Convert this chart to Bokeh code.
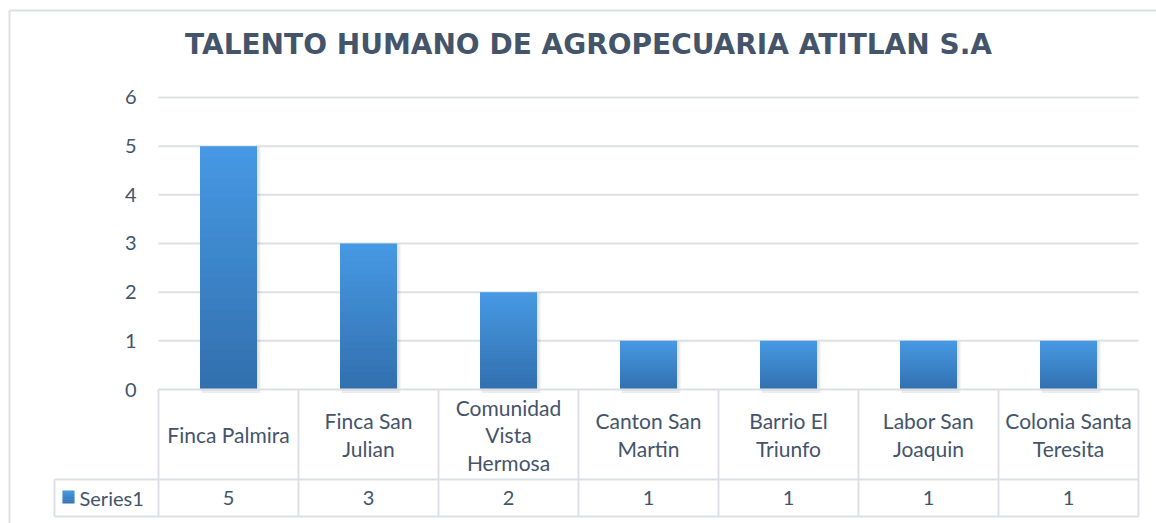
import numpy as np
from bokeh.plotting import figure
from bokeh.models import ColumnDataSource, Range1d
from bokeh.core.properties import value
from bokeh.embed import file_html
from bokeh.resources import INLINE

# ---------------- data ----------------
title_text = "TALENTO HUMANO DE AGROPECUARIA ATITLAN S.A"
categories = ["Finca Palmira", "Finca San Julian", "Comunidad Vista Hermosa",
              "Canton San Martin", "Barrio El Triunfo", "Labor San Joaquin",
              "Colonia Santa Teresita"]
category_labels = ["Finca Palmira", "Finca San\nJulian", "Comunidad\nVista\nHermosa",
                   "Canton San\nMartin", "Barrio El\nTriunfo", "Labor San\nJoaquin",
                   "Colonia Santa\nTeresita"]
series_name = "Series1"
series_values = [5, 3, 2, 1, 1, 1, 1]
y_ticks = [0, 1, 2, 3, 4, 5, 6]

# ---------------- layout (pixels) ----------------
W, H = 1156, 523
PX_X0, PX_PER_X = 228.0, 140.0      # canvas px of first category centre, px per category
PX_Y0, PX_PER_Y = 389.0, 48.67      # canvas px of value 0, px per unit


def xd(px):
    return (px - PX_X0) / PX_PER_X


def yd(py):
    return (PX_Y0 - py) / PX_PER_Y


TEXT = "#44546A"
GRID = "#DCE0E6"
FONT = "Lato"
BAR_W = 57 / PX_PER_X
ROW1 = yd(479)      # category row bottom
ROW2 = yd(516)      # value row bottom
CELL_L = xd(54)     # left edge of legend cell

n = len(categories)
xs = list(range(n))

p = figure(width=W, height=H, x_range=Range1d(xd(0), xd(W)), y_range=Range1d(yd(H), yd(0)),
           x_axis_type=None, y_axis_type=None, min_border=0, toolbar_location=None,
           output_backend="svg", outline_line_color=None)
p.grid.visible = False
p.background_fill_color = "white"
p.border_fill_color = "white"

# outer chart border (top and left edges)
p.segment(x0=[xd(9), xd(9)], y0=[yd(10), yd(10)], x1=[xd(W), xd(9)], y1=[yd(10), yd(H)],
          line_color=GRID, line_width=2)

# gridlines over the plot area
grid_src = ColumnDataSource(dict(x0=[xd(158)] * (len(y_ticks) - 1), x1=[xd(1138)] * (len(y_ticks) - 1),
                                 y=y_ticks[1:]))
p.segment(x0="x0", y0="y", x1="x1", y1="y", source=grid_src, line_color=GRID, line_width=2)

# y tick labels
p.text(x=[xd(136)] * len(y_ticks), y=y_ticks, text=[str(t) for t in y_ticks],
       text_align="right", text_baseline="middle", text_color=TEXT,
       text_font=value(FONT), text_font_size=value("20px"))

# bar shadows
p.vbar(x=[x + 2.5 / PX_PER_X for x in xs], width=BAR_W + 2 / PX_PER_X,
       bottom=-3.5 / PX_PER_Y, top=[v - 1 / PX_PER_Y for v in series_values],
       fill_color="black", fill_alpha=0.07, line_color=None)
p.vbar(x=[x + 1 / PX_PER_X for x in xs], width=BAR_W + 1 / PX_PER_X,
       bottom=-1.5 / PX_PER_Y, top=series_values,
       fill_color="black", fill_alpha=0.06, line_color=None)

# gradient bars (each bar: lighter at top, darker at bottom)
c_bot = np.array([0x32, 0x6F, 0xAD])
c_top = np.array([0x46, 0x99, 0xE4])
N = 24
overlap = 1.0 / PX_PER_Y
bx, bb, bt, bc = [], [], [], []
for x, v in zip(xs, series_values):
    for k in range(N):
        t = (k + 0.5) / N
        c = (c_bot + (c_top - c_bot) * t).round().astype(int)
        bx.append(x)
        bb.append(v * k / N - (overlap if k > 0 else 0))
        bt.append(v * (k + 1) / N)
        bc.append("#%02x%02x%02x" % tuple(c))
bar_src = ColumnDataSource(dict(x=bx, bottom=bb, top=bt, color=bc))
p.vbar(x="x", width=BAR_W, bottom="bottom", top="top", fill_color="color",
       line_color=None, source=bar_src)

# data table lines
edges = [x - 0.5 for x in xs] + [xs[-1] + 0.5]
seg_x0 = edges + [edges[0], CELL_L, CELL_L, CELL_L]
seg_x1 = edges + [edges[-1], edges[-1], edges[-1], CELL_L]
seg_y0 = [0] * len(edges) + [0, ROW1, ROW2, ROW1]
seg_y1 = [ROW2] * len(edges) + [0, ROW1, ROW2, ROW2]
p.segment(x0=seg_x0, y0=seg_y0, x1=seg_x1, y1=seg_y1, line_color=GRID, line_width=2)

# category labels
p.text(x=xs, y=[ROW1 / 2] * n, text=category_labels, text_align="center",
       text_baseline="middle", text_color=TEXT, text_font=value(FONT),
       text_font_size=value("21px"), text_line_height=1.1)

# value row
p.text(x=xs, y=[(ROW1 + ROW2) / 2] * n, text=[str(v) for v in series_values],
       text_align="center", text_baseline="middle", text_color=TEXT,
       text_font=value(FONT), text_font_size=value("20px"))

# legend key in table
sw = 12
swy0, swy1 = yd(503), yd(490)
gx0, gx1 = xd(62), xd(62 + sw)
qb, qt, qc = [], [], []
M = 6
for k in range(M):
    t = (k + 0.5) / M
    c = (c_bot + (c_top - c_bot) * t).round().astype(int)
    qb.append(swy0 + (swy1 - swy0) * k / M - (0.5 / PX_PER_Y if k > 0 else 0))
    qt.append(swy0 + (swy1 - swy0) * (k + 1) / M)
    qc.append("#%02x%02x%02x" % tuple(c))
p.quad(left=[gx0] * M, right=[gx1] * M, bottom=qb, top=qt, fill_color=qc, line_color=None)
p.text(x=[xd(79)], y=[(ROW1 + ROW2) / 2], text=[series_name], text_align="left",
       text_baseline="middle", text_color=TEXT, text_font=value(FONT),
       text_font_size=value("20px"))

# title
p.text(x=[xd(588)], y=[yd(43.5)], text=[title_text], text_align="center",
       text_baseline="middle", text_color=TEXT, text_font=value("DejaVu Sans"),
       text_font_style="bold", text_font_size=value("28px"))

open("out.html", "w").write(file_html(p, INLINE))
